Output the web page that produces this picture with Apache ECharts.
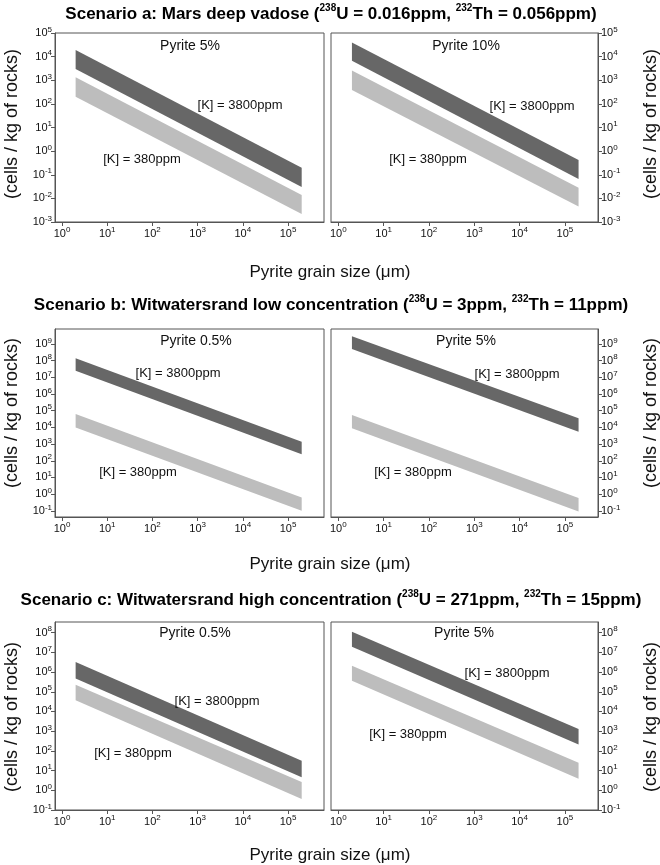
<!DOCTYPE html>
<html><head><meta charset="utf-8">
<script src="https://cdn.jsdelivr.net/npm/echarts@6/dist/echarts.min.js"></script>
<style>html,body{margin:0;padding:0;background:#fff}#chart{width:660px;height:865px}</style>
</head><body><div id="chart"></div>
<script>
// ---------- DATA ----------
const grainSize = [2, 200000];           // µm, band end points
const xTickExp = [0, 1, 2, 3, 4, 5];
const yTickExpA = [-3, -2, -1, 0, 1, 2, 3, 4, 5];
const yTickExpB = [-1, 0, 1, 2, 3, 4, 5, 6, 7, 8, 9];
const yTickExpC = [-1, 0, 1, 2, 3, 4, 5, 6, 7, 8];

// Scenario a, Pyrite 5%
const a5_K3800_upper = [1.9e4, 0.2];
const a5_K3800_lower = [3.0e3, 0.03];
const a5_K380_upper = [1.35e3, 0.014];
const a5_K380_lower = [2.0e2, 0.0022];
// Scenario a, Pyrite 10%
const a10_K3800_upper = [4.0e4, 0.42];
const a10_K3800_lower = [6.7e3, 0.066];
const a10_K380_upper = [2.6e3, 0.028];
const a10_K380_lower = [3.9e2, 0.0045];
// Scenario b, Pyrite 0.5%
const b05_K3800_upper = [1.4e8, 1.4e3];
const b05_K3800_lower = [2.5e7, 2.5e2];
const b05_K380_upper = [6.3e4, 0.63];
const b05_K380_lower = [1.0e4, 0.1];
// Scenario b, Pyrite 5%
const b5_K3800_upper = [2.9e9, 3.5e4];
const b5_K3800_lower = [5.0e8, 5.5e3];
const b5_K380_upper = [5.5e4, 0.58];
const b5_K380_lower = [9.0e3, 0.09];
// Scenario c, Pyrite 0.5%
const c05_K3800_upper = [3.2e6, 32];
const c05_K3800_lower = [4.7e5, 4.6];
const c05_K380_upper = [2.3e5, 2.6];
const c05_K380_lower = [3.7e4, 0.36];
// Scenario c, Pyrite 5%
const c5_K3800_upper = [1.1e8, 1.3e3];
const c5_K3800_lower = [1.9e7, 2.1e2];
const c5_K380_upper = [2.1e6, 25];
const c5_K380_lower = [3.6e5, 3.8];

const panelTitles = ['Pyrite 5%', 'Pyrite 10%', 'Pyrite 0.5%', 'Pyrite 5%', 'Pyrite 0.5%', 'Pyrite 5%'];
const bandLabels = ['[K] = 3800ppm', '[K] = 380ppm'];
const scenarioA = ['Scenario a: Mars deep vadose (', '238', 'U = 0.016ppm, ', '232', 'Th = 0.056ppm)'];
const scenarioB = ['Scenario b: Witwatersrand low concentration (', '238', 'U = 3ppm, ', '232', 'Th = 11ppm)'];
const scenarioC = ['Scenario c: Witwatersrand high concentration (', '238', 'U = 271ppm, ', '232', 'Th = 15ppm)'];
const xAxisName = 'Pyrite grain size (\u03bcm)';
const yAxisName = '(cells / kg of rocks)';

// ---------- LAYOUT / STYLE ----------
const FONT = '"Liberation Sans", Arial, Helvetica, sans-serif';
const DARK = '#676767', LIGHT = '#bdbdbd', AXIS = '#555555', TXT = '#111111';

const panels = [
  {grid: {left: 55, top: 33, width: 269, height: 189}, xr: [-0.155, 5.795], yr: [-3, 5], yt: yTickExpA, side: 'left',
   bands: [[a5_K3800_lower, a5_K3800_upper, DARK], [a5_K380_lower, a5_K380_upper, LIGHT]],
   title: [190, 46], lab: [[240, 105], [142, 159]]},
  {grid: {left: 331, top: 33, width: 267, height: 189}, xr: [-0.161, 5.73], yr: [-3, 5], yt: yTickExpA, side: 'right',
   bands: [[a10_K3800_lower, a10_K3800_upper, DARK], [a10_K380_lower, a10_K380_upper, LIGHT]],
   title: [466, 46], lab: [[532, 106], [428, 159]]},
  {grid: {left: 55, top: 329, width: 269, height: 188}, xr: [-0.155, 5.795], yr: [-1.37, 9.9], yt: yTickExpB, side: 'left',
   bands: [[b05_K3800_lower, b05_K3800_upper, DARK], [b05_K380_lower, b05_K380_upper, LIGHT]],
   title: [196, 341], lab: [[178, 373], [138, 472]]},
  {grid: {left: 331, top: 329, width: 267, height: 188}, xr: [-0.161, 5.73], yr: [-1.37, 9.9], yt: yTickExpB, side: 'right',
   bands: [[b5_K3800_lower, b5_K3800_upper, DARK], [b5_K380_lower, b5_K380_upper, LIGHT]],
   title: [466, 341], lab: [[517, 374], [413, 472]]},
  {grid: {left: 55, top: 622, width: 269, height: 188}, xr: [-0.155, 5.795], yr: [-1, 8.54], yt: yTickExpC, side: 'left',
   bands: [[c05_K3800_lower, c05_K3800_upper, DARK], [c05_K380_lower, c05_K380_upper, LIGHT]],
   title: [195, 633], lab: [[217, 701], [133, 753]]},
  {grid: {left: 331, top: 622, width: 267, height: 188}, xr: [-0.161, 5.73], yr: [-1, 8.54], yt: yTickExpC, side: 'right',
   bands: [[c5_K3800_lower, c5_K3800_upper, DARK], [c5_K380_lower, c5_K380_upper, LIGHT]],
   title: [464, 633], lab: [[507, 673], [408, 734]]}
];

const tickRich = {
  b: {fontSize: 11, fontFamily: FONT, color: TXT, lineHeight: 15},
  s: {fontSize: 8, fontFamily: FONT, color: TXT, verticalAlign: 'top', lineHeight: 9}
};
const powLabel = v => '{b|10}{s|' + v + '}';

const grids = [], xAxes = [], yAxes = [], series = [], graphics = [];

panels.forEach((p, gi) => {
  grids.push(Object.assign({show: true, borderColor: AXIS, borderWidth: 1, containLabel: false}, p.grid));
  xAxes.push({
    gridIndex: gi, type: 'value', min: p.xr[0], max: p.xr[1],
    axisLine: {show: true, onZero: false, lineStyle: {color: AXIS, width: 1}},
    axisTick: {show: true, customValues: xTickExp, length: 4, lineStyle: {color: AXIS}},
    axisLabel: {customValues: xTickExp, formatter: powLabel, rich: tickRich, margin: 4},
    splitLine: {show: false}
  });
  yAxes.push({
    gridIndex: gi, type: 'value', min: p.yr[0], max: p.yr[1], position: p.side,
    axisLine: {show: true, onZero: false, lineStyle: {color: AXIS, width: 1}},
    axisTick: {show: true, customValues: p.yt, length: 4, lineStyle: {color: AXIS}},
    axisLabel: {customValues: p.yt, formatter: powLabel, rich: tickRich, margin: 3},
    splitLine: {show: false}
  });
  p.bands.forEach(([lower, upper, color]) => {
    const data = grainSize.map((x, i) => [Math.log10(x), Math.log10(lower[i]), Math.log10(upper[i])]);
    series.push({
      type: 'custom', coordinateSystem: 'cartesian2d', xAxisIndex: gi, yAxisIndex: gi,
      silent: true, data: data, encode: {x: 0, y: [1, 2]},
      renderItem: (params, api) => {
        const i = params.dataIndex;
        if (i >= data.length - 1) return null;
        const a = data[i], b = data[i + 1];
        return {
          type: 'polygon',
          shape: {points: [api.coord([a[0], a[2]]), api.coord([b[0], b[2]]), api.coord([b[0], b[1]]), api.coord([a[0], a[1]])]},
          style: {fill: color}
        };
      }
    });
  });
  graphics.push({type: 'text', x: p.title[0], y: p.title[1], z: 100,
    style: {text: panelTitles[gi], fontSize: 14, fontFamily: FONT, fill: TXT, align: 'center', verticalAlign: 'middle'}});
  p.lab.forEach((pos, k) => {
    graphics.push({type: 'text', x: pos[0], y: pos[1], z: 100,
      style: {text: bandLabels[k], fontSize: 13, fontFamily: FONT, fill: TXT, align: 'center', verticalAlign: 'middle'}});
  });
});

const titleRich = {
  t: {fontSize: 17, fontWeight: 'bold', fontFamily: FONT, color: TXT, lineHeight: 21},
  s: {fontSize: 10, fontWeight: 'bold', fontFamily: FONT, color: TXT, verticalAlign: 'top', lineHeight: 10}
};
const buildTitle = segs => segs.map((s, i) => (i % 2 ? '{s|' : '{t|') + s + '}').join('');
[[scenarioA, 14], [scenarioB, 305], [scenarioC, 600]].forEach(([segs, y]) => {
  graphics.push({type: 'text', x: 331, y: y, z: 100,
    style: {text: buildTitle(segs), rich: titleRich, align: 'center', verticalAlign: 'middle'}});
});
[272, 564, 855].forEach(y => {
  graphics.push({type: 'text', x: 330, y: y, z: 100,
    style: {text: xAxisName, fontSize: 17, fontFamily: FONT, fill: TXT, align: 'center', verticalAlign: 'middle'}});
});
[124, 413, 717].forEach(y => {
  [12, 651].forEach(x => {
    graphics.push({type: 'text', x: x, y: y, rotation: Math.PI / 2, z: 100,
      style: {text: yAxisName, fontSize: 18, fontFamily: FONT, fill: TXT, align: 'center', verticalAlign: 'middle'}});
  });
});

const chart = echarts.init(document.getElementById('chart'), null, {renderer: 'canvas'});
chart.setOption({
  animation: false,
  backgroundColor: '#ffffff',
  grid: grids, xAxis: xAxes, yAxis: yAxes, series: series, graphic: graphics
});
</script></body></html>
